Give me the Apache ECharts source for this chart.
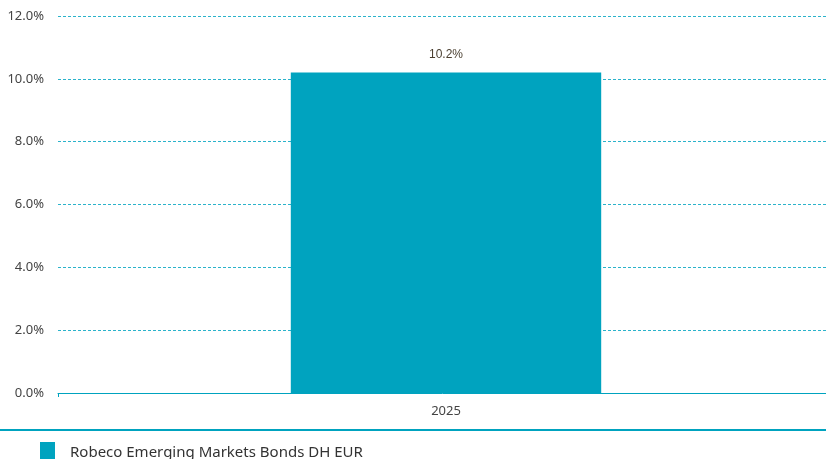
<!DOCTYPE html>
<html lang="en">
<head>
    <meta charset="utf-8">
    <title>Robeco Emerging Markets Bonds DH EUR</title>
    <script src="https://cdn.jsdelivr.net/npm/echarts@6/dist/echarts.min.js"></script>
    <style type="text/css">
        html, body {
            width: 100%;
            height: 100%;
            margin: 0px;
            padding: 0px;
            background: #fff;
        }

        #main {
            width: 826px;
            height: 459px;
        }
    </style>
</head>
<body>
<div id="main"></div>
<script>
    // 数据
    var years = ['2025'];
    var fundName = 'Robeco Emerging Markets Bonds DH EUR';
    var fundReturns = [10.2];

    var teal = '#00a3bf';
    var myChart = echarts.init(document.getElementById('main'));

    var option = {
        animation: false,
        textStyle: { fontFamily: 'Noto Sans' },
        grid: {
            left: 58,
            width: 776,
            top: 16,
            bottom: 66,
            outerBoundsMode: 'none'
        },
        legend: {
            left: 35,
            top: 437,
            itemWidth: 15,
            itemHeight: 22,
            icon: 'rect',
            textStyle: { fontSize: 15, color: '#333', fontFamily: 'Noto Sans', padding: [0, 0, 0, 10] },
            data: [fundName]
        },
        xAxis: {
            type: 'category',
            data: years,
            axisLine: { show: true, lineStyle: { color: teal, width: 1 } },
            axisTick: { show: true, length: 4, alignWithLabel: false, lineStyle: { color: teal } },
            axisLabel: { color: '#444', fontSize: 13, margin: 12 }
        },
        yAxis: {
            type: 'value',
            min: 0,
            max: 12,
            interval: 2,
            axisLine: { show: false },
            axisTick: { show: false },
            axisLabel: {
                color: '#444',
                fontSize: 13,
                margin: 14,
                formatter: function (v) { return v.toFixed(1) + '%'; }
            },
            splitLine: {
                lineStyle: { color: '#2bb3cb', type: [3, 2], width: 1 }
            }
        },
        graphic: [{
            type: 'rect',
            left: 0,
            top: 429,
            shape: { width: 826, height: 2 },
            style: { fill: teal }
        }],
        series: [{
            name: fundName,
            type: 'bar',
            data: fundReturns,
            barWidth: '40%',
            itemStyle: { color: teal },
            label: {
                show: true,
                position: 'top',
                distance: 12,
                color: '#4a3f30',
                fontSize: 12,
                fontFamily: 'Liberation Sans',
                formatter: function (p) { return p.value.toFixed(1) + '%'; }
            }
        }]
    };

    myChart.setOption(option);
</script>
</body>
</html>
